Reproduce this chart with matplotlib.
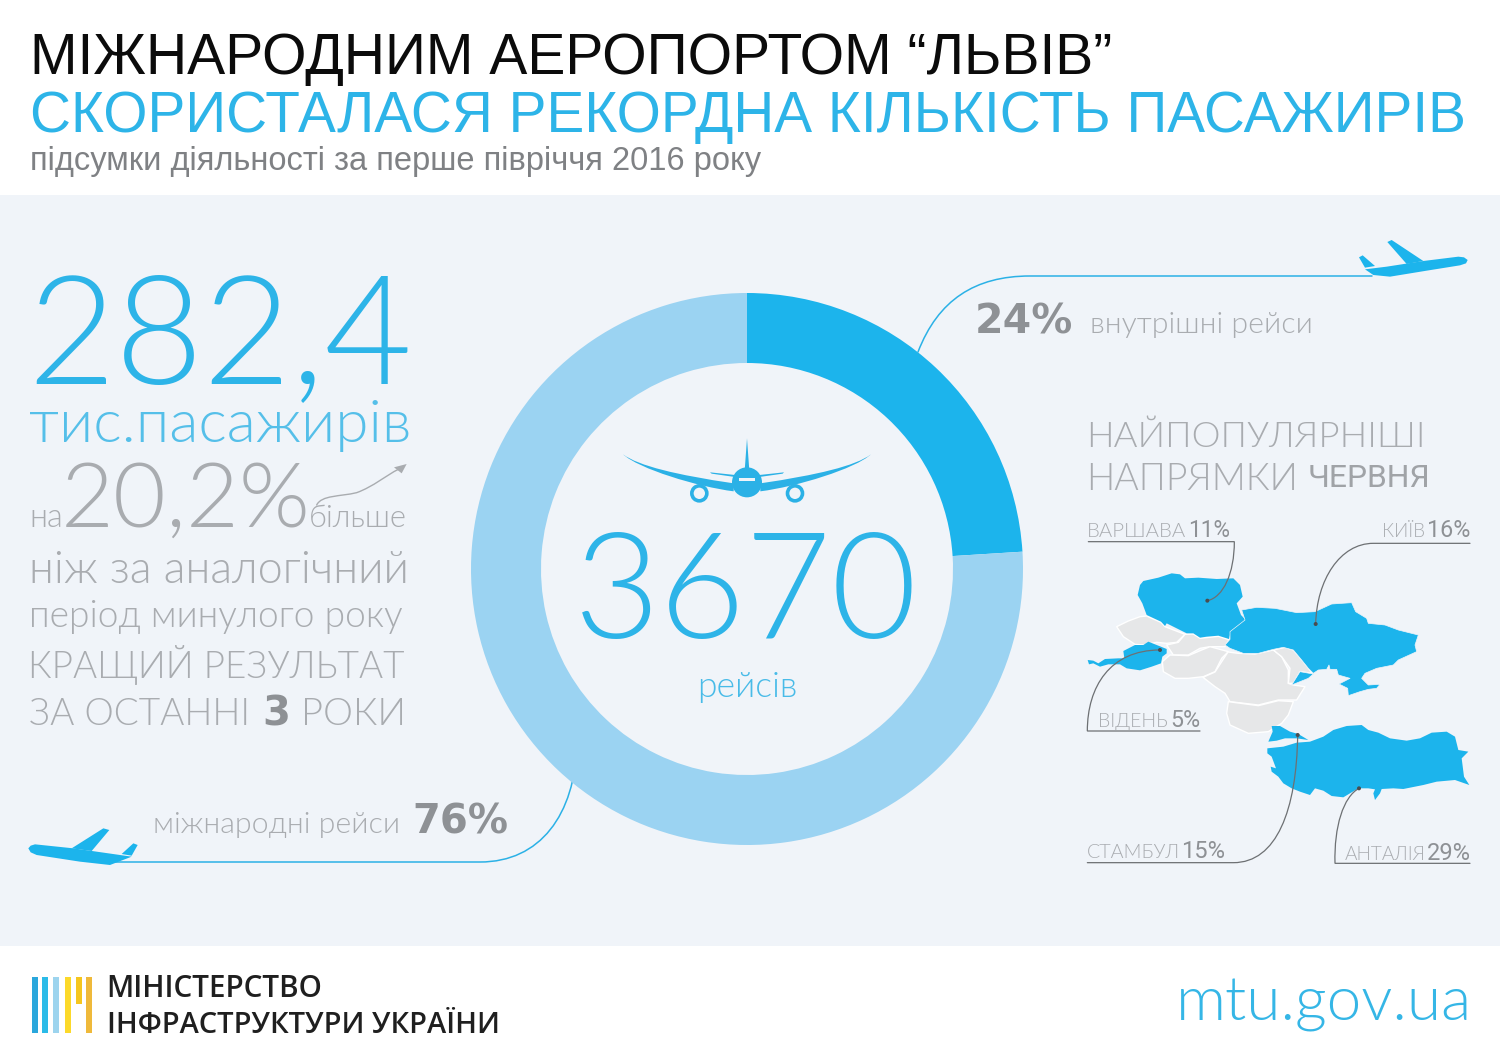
import matplotlib
matplotlib.use("Agg")
import matplotlib.pyplot as plt
from matplotlib.patches import Polygon, Circle, Rectangle, PathPatch
from matplotlib.path import Path
from matplotlib import font_manager as fm

# ---- data ----
flight_labels = ["внутрішні рейси", "міжнародні рейси"]
flight_shares = [24, 76]
total_flights = "3670"
passengers = "282,4"
growth = "20,2%"
dest_names = ["ВАРШАВА", "КИЇВ", "ВІДЕНЬ", "СТАМБУЛ", "АНТАЛІЯ"]
dest_shares = [11, 16, 5, 15, 29]

BLUE = "#1cb4ec"
LIGHT = "#9bd3f2"
TXT_BLUE = "#2db4e8"
GRAY = "#a9acb0"
DARK_GRAY = "#8e9195"
PANEL = "#f0f4f9"

light_fams = {f.name for f in fm.fontManager.ttflist if f.weight in (200, 300, "light", "extra light", "thin", 100)}
LIGHT_FAM = next((n for n in ["Lato", "Roboto", "Open Sans", "Inter", "Noto Sans"] if n in light_fams), "Liberation Sans")
HEAD_FAM = "Liberation Sans"
BOLD_FAM = "DejaVu Sans"

fig = plt.figure(figsize=(15, 10.6), dpi=100, facecolor="white")
ax = fig.add_axes([0, 0, 1, 1])
ax.set_xlim(0, 1500)
ax.set_ylim(1060, 0)
ax.axis("off")
ax.add_patch(Rectangle((0, 195), 1500, 751, fc=PANEL, ec="none", zorder=0))
rend = fig.canvas.get_renderer()


def fit(s, x0, x1, base, color, family=None, weight=300):
    t = ax.text(x0, base, s, fontsize=20, color=color, ha="left", va="baseline",
                family=family or LIGHT_FAM, weight=weight, zorder=5)
    for _ in range(2):
        w = t.get_window_extent(rend).width
        t.set_fontsize(t.get_fontsize() * (x1 - x0) / w)
    return t


def curve(pts, color, lw, z=4):
    codes = [Path.MOVETO]
    verts = [pts[0]]
    for seg in pts[1:]:
        if len(seg) == 3:
            verts += list(seg)
            codes += [Path.CURVE4] * 3
        else:
            verts.append(seg)
            codes.append(Path.LINETO)
    ax.add_patch(PathPatch(Path(verts, codes), fc="none", ec=color, lw=lw, zorder=z, capstyle="round"))


def poly(pts, color, ox=0, oy=0, k=1 / 3, ec="none", lw=0, z=3):
    ax.add_patch(Polygon([(ox + x * k, oy + y * k) for x, y in pts], closed=True, fc=color, ec=ec, lw=lw,
                         joinstyle="round", zorder=z))


# ---- header ----
fit("МІЖНАРОДНИМ АЕРОПОРТОМ “ЛЬВІВ”", 30, 1116, 74, "#0b0b0b", HEAD_FAM, "normal")
fit("СКОРИСТАЛАСЯ РЕКОРДНА КІЛЬКІСТЬ ПАСАЖИРІВ", 30, 1465, 132, TXT_BLUE, HEAD_FAM, "normal")
fit("підсумки діяльності за перше півріччя 2016 року", 30, 759, 170, "#7f8184", HEAD_FAM, "normal")

# ---- left column ----
fit(passengers, 27, 412, 383, TXT_BLUE)
fit("тис.пасажирів", 29, 410, 442, "#55bfe9")
fit("на", 29, 63, 527, GRAY)
fit(growth, 61, 311, 527, GRAY)
fit("більше", 309, 407, 527, GRAY)
fit("ніж за аналогічний", 29, 409, 583, GRAY)
fit("період минулого року", 29, 405, 627, GRAY)
fit("КРАЩИЙ РЕЗУЛЬТАТ", 28, 405, 678, GRAY)
fit("ЗА ОСТАННІ", 29, 250, 725, GRAY)
fit("3", 262, 290, 725, DARK_GRAY, BOLD_FAM, "bold")
fit("РОКИ", 301, 406, 725, GRAY)

AX, AY = 20, 450
curve([(AX + 890 / 3, AY + 165 / 3),
       ((AX + 905 / 3, AY + 135 / 3), (AX + 960 / 3, AY + 140 / 3), (AX + 1010 / 3, AY + 128 / 3)),
       ((AX + 1060 / 3, AY + 110 / 3), (AX + 1100 / 3, AY + 75 / 3), (AX + 1135 / 3, AY + 58 / 3))], GRAY, 1.0)
poly([(1160, 42), (1122, 52), (1145, 70)], GRAY, AX, AY)

# ---- donut ----
R, CX, CY = 276, 747, 569
pax = fig.add_axes([(CX - R) / 1500, 1 - (CY + R) / 1060, 2 * R / 1500, 2 * R / 1060])
pax.pie(flight_shares, startangle=90, counterclock=False, colors=[BLUE, LIGHT], radius=1,
        wedgeprops=dict(width=70 / R, linewidth=0))
pax.set_xlim(-1, 1)
pax.set_ylim(-1, 1)
pax.patch.set_alpha(0)
pax.set_zorder(2)

fit(total_flights, 574, 918, 638, TXT_BLUE)
fit("рейсів", 697, 797, 697, "#48bbe8")

# central plane
PX, PY = 600, 430
PLANE = "#2bb1e6"
poly([(441, 25), (434, 122), (448, 122)], PLANE, PX, PY)
poly([(330, 127), (405, 135), (405, 141), (335, 131)], PLANE, PX, PY)
poly([(552, 127), (478, 135), (478, 141), (548, 131)], PLANE, PX, PY)


def wing(sign):
    p = lambda x, y: (PX + (441 + sign * x) / 3, PY + y / 3)
    verts = [p(372, 73), p(325, 108), p(210, 135), p(40, 160), p(40, 184),
             p(150, 170), p(325, 116), p(372, 73), p(372, 73)]
    codes = [Path.MOVETO, Path.CURVE4, Path.CURVE4, Path.CURVE4, Path.LINETO,
             Path.CURVE4, Path.CURVE4, Path.CURVE4, Path.CLOSEPOLY]
    ax.add_patch(PathPatch(Path(verts, codes), fc=PLANE, ec="none", zorder=3))


wing(1)
wing(-1)
ax.add_patch(Circle((PX + 441 / 3, PY + 157 / 3), 15, fc=PLANE, ec="none", zorder=4))
ax.add_patch(Rectangle((PX + 417 / 3, PY + 143 / 3), 16, 3, fc=PANEL, ec="none", zorder=5))
for ex in (298, 585):
    ax.add_patch(Circle((PX + ex / 3, PY + 190 / 3), 7.5, fc=PANEL, ec=PLANE, lw=2.6, zorder=4))

# ---- leaders and planes around the donut ----
curve([(918, 352), ((938, 300), (975, 276), (1030, 276)), (1372, 276)], PLANE, 1.1, z=3)
PT = (1340, 230)
poly([(75, 118), (140, 110), (250, 93), (355, 80), (372, 82), (383, 90), (378, 100), (360, 106), (260, 122), (150, 140), (100, 135)], BLUE, *PT)
poly([(142, 36), (155, 30), (250, 93), (200, 102)], BLUE, *PT)
poly([(57, 82), (68, 76), (105, 108), (75, 113)], BLUE, *PT)

curve([(577, 744), ((575, 815), (540, 862), (480, 862)), (110, 862)], PLANE, 1.1, z=3)
PB = (20, 815)
poly([(25, 100), (32, 92), (45, 88), (160, 100), (300, 120), (335, 125), (270, 150), (180, 140), (50, 120), (32, 112)], BLUE, *PB)
poly([(155, 100), (250, 40), (268, 45), (215, 108)], BLUE, *PB)
poly([(305, 117), (340, 85), (353, 90), (335, 122)], BLUE, *PB)

fit(flight_labels[1], 153, 400, 833, GRAY)
fit(f"{flight_shares[1]}%", 412, 508, 833, DARK_GRAY, BOLD_FAM, "bold")
fit(f"{flight_shares[0]}%", 975, 1073, 333, DARK_GRAY, BOLD_FAM, "bold")
fit(flight_labels[0], 1090, 1313, 333, GRAY)

fit("НАЙПОПУЛЯРНІШІ", 1086, 1425, 447, GRAY)
fit("НАПРЯМКИ", 1086, 1298, 490, GRAY)
fit("ЧЕРВНЯ", 1308, 1431, 487, "#a0a3a7", "Roboto", "normal")

# ---- map (outlines traced in 3x crops of three regions) ----
MA = (1085, 565)
MB = (1225, 590)
MC = (1260, 720)
MAP_GRAY = "#e6e7e8"
gray_a = [
    [(95, 185), (130, 168), (165, 155), (185, 153), (228, 172), (240, 185), (300, 208), (275, 232), (245, 235), (215, 232), (175, 240), (150, 238), (115, 215)],
    [(300, 208), (325, 207), (345, 220), (400, 214), (432, 224), (420, 245), (375, 245), (345, 250), (310, 270), (265, 270), (245, 240), (280, 232)],
    [(232, 290), (255, 270), (310, 272), (350, 255), (375, 245), (430, 260), (410, 280), (390, 320), (355, 335), (310, 340), (270, 340), (235, 320)],
]
gray_b = [
    [(9, 186), (40, 190), (90, 192), (145, 180), (170, 200), (190, 240), (190, 280), (205, 285), (240, 290), (215, 330), (160, 330), (100, 345), (15, 335), (0, 310), (-30, 290), (-66, 262), (-30, 246)],
    [(145, 180), (180, 172), (205, 180), (235, 215), (262, 250), (225, 245), (205, 280), (190, 280), (195, 235), (170, 200)],
    [(10, 335), (100, 347), (160, 332), (205, 335), (190, 375), (170, 400), (130, 425), (70, 430), (15, 405), (5, 370)],
]
for g in gray_a:
    poly(g, MAP_GRAY, *MA, ec="white", lw=1.0)
for g in gray_b:
    poly(g, MAP_GRAY, *MB, ec="white", lw=1.0)
blue_a = [
    [(158, 90), (165, 60), (175, 48), (220, 38), (260, 25), (285, 28), (300, 40), (340, 38), (395, 42), (445, 40), (465, 60), (473, 95), (455, 115), (468, 150), (482, 165), (455, 190), (435, 210), (432, 222), (400, 212), (365, 215), (345, 218), (325, 205), (305, 205), (275, 190), (245, 175), (240, 183), (228, 170), (185, 150), (172, 115)],
    [(8, 285), (25, 287), (40, 295), (60, 282), (100, 280), (118, 280), (115, 258), (150, 240), (175, 240), (190, 230), (245, 252), (245, 265), (232, 275), (228, 295), (200, 305), (165, 316), (125, 310), (105, 298), (70, 298), (45, 305), (25, 295), (12, 298)],
]
blue_b = [
    [(50, 60), (95, 52), (150, 55), (215, 68), (270, 65), (320, 42), (380, 38), (392, 65), (425, 85), (430, 100), (480, 105), (520, 120), (580, 135), (570, 165), (575, 185), (520, 210), (505, 225), (455, 235), (420, 250), (410, 265), (430, 285), (465, 283), (455, 295), (430, 298), (405, 305), (370, 317), (368, 295), (342, 282), (375, 265), (340, 255), (335, 238), (315, 238), (312, 225), (305, 238), (280, 240), (265, 250), (250, 235), (230, 210), (205, 180), (175, 172), (145, 178), (100, 190), (55, 190), (15, 175), (0, 165), (15, 148), (15, 125), (60, 90)],
    [(200, 285), (225, 245), (265, 252), (250, 265), (225, 275)],
]
blue_c = [
    [(25, 65), (38, 35), (35, 18), (60, 18), (90, 35), (115, 42), (145, 60), (110, 55), (75, 55), (50, 62)],
    [(22, 85), (70, 80), (110, 68), (150, 65), (190, 50), (220, 30), (260, 18), (305, 15), (325, 30), (355, 38), (390, 55), (440, 62), (480, 55), (515, 38), (560, 35), (585, 50), (595, 90), (625, 95), (605, 115), (612, 170), (628, 195), (585, 180), (530, 185), (490, 195), (430, 207), (400, 205), (365, 207), (360, 220), (345, 240), (340, 220), (345, 208), (325, 205), (295, 205), (250, 232), (215, 228), (190, 212), (165, 205), (150, 225), (120, 215), (95, 205), (70, 190), (55, 170), (35, 155), (32, 140), (48, 145), (35, 110), (22, 100)],
]
for b in blue_a:
    poly(b, BLUE, *MA)
for b in blue_b:
    poly(b, BLUE, *MB, ec=PANEL, lw=0.5)
for b in blue_c:
    poly(b, BLUE, *MC)

M = (1080, 510)


def mz(x, y):
    return (M[0] + x / 3, M[1] + y / 3)


LEAD = "#6d7073"
leaders = [
    ([mz(25, 95), mz(463, 95), (mz(463, 190), mz(430, 262), mz(382, 272))], mz(382, 272)),
    ([mz(1170, 100), mz(880, 100), (mz(780, 100), mz(710, 210), mz(707, 342))], mz(707, 342)),
    ([mz(360, 663), mz(22, 663), (mz(22, 530), mz(90, 420), mz(240, 420))], mz(240, 420)),
    ([mz(22, 1058), mz(460, 1058), (mz(590, 1058), mz(650, 900), mz(653, 675))], mz(653, 675)),
    ([mz(1170, 1060), mz(765, 1060), (mz(762, 950), mz(790, 860), mz(837, 835))], mz(837, 835)),
]
for pts, dot in leaders:
    curve(pts, LEAD, 0.9, z=4)
    ax.add_patch(Circle(dot, 2.0, fc="#4a4d50", ec="none", zorder=5))

name_spans = [(1087, 1186, 537), (1382, 1425, 537), (1098, 1168, 727), (1087, 1180, 858), (1345, 1426, 860)]
pct_spans = [(1188, 1230), (1427, 1470), (1170, 1200), (1181, 1225), (1427, 1471)]
for name, share, (a, b, y), (c, d) in zip(dest_names, dest_shares, name_spans, pct_spans):
    fit(name, a, b, y, GRAY)
    fit(f"{share}%", c, d, y, DARK_GRAY, "Roboto", "normal")

# ---- footer ----
LX, LY = 20, 960
bars = [(35, 218, "#2aa7dc"), (67, 218, "#2bbbe8"), (100, 218, "#9dd4ee"), (135, 218, "#fcd92a"),
        (167, 133, "#f5c61f"), (198, 218, "#efb93a")]
for x, bot, col in bars:
    ax.add_patch(Rectangle((LX + x / 3, LY + 52 / 3), 6, (bot - 52) / 3, fc=col, ec="none", zorder=3))
fit("МІНІСТЕРСТВО", 106, 322, 997, "#1f1f1f", "Open Sans", 600)
fit("ІНФРАСТРУКТУРИ УКРАЇНИ", 107, 502, 1033, "#1f1f1f", "Open Sans", 600)
fit("mtu.gov.ua", 1176, 1472, 1020, "#35b6e6")

fig.savefig("out.png", dpi=100, facecolor="white")
